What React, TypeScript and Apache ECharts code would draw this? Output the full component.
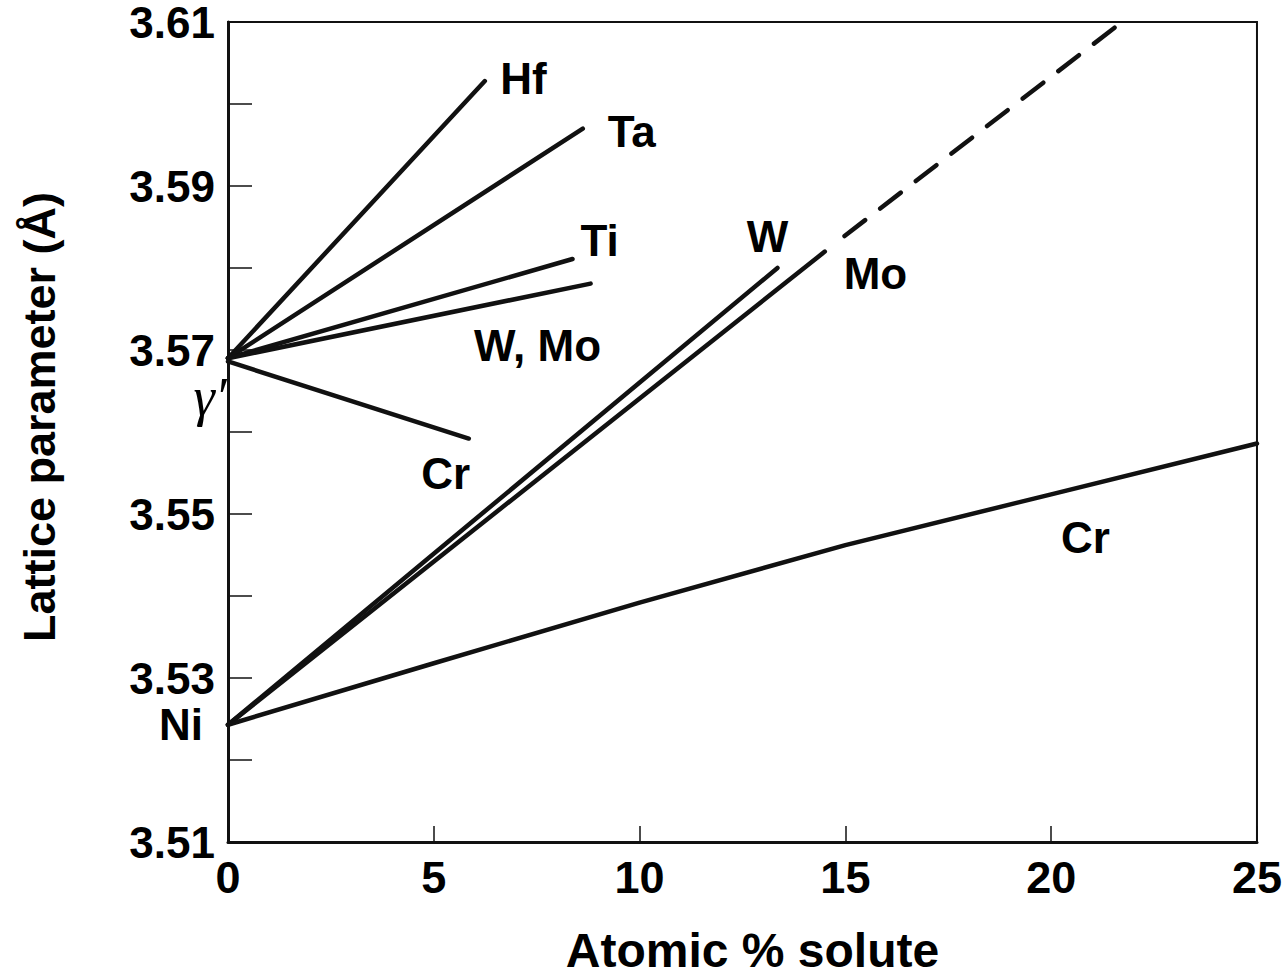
import React, { useEffect, useRef } from 'react';
import * as echarts from 'echarts';

// Lattice parameter (Å) vs atomic % solute
const gammaPrimeStart = 3.569;
const nickelStart = 3.5243;

const hfInGammaPrime: [number, number][] = [[0, gammaPrimeStart], [6.24, 3.6028]];
const taInGammaPrime: [number, number][] = [[0, gammaPrimeStart], [8.62, 3.597]];
const tiInGammaPrime: [number, number][] = [[0, gammaPrimeStart], [8.37, 3.5811]];
const wMoInGammaPrime: [number, number][] = [[0, gammaPrimeStart], [8.81, 3.5781]];
const crInGammaPrime: [number, number][] = [[0, 3.5686], [5.85, 3.5592]];

const wInNickel: [number, number][] = [[0, nickelStart], [13.35, 3.58]];
const moInNickelSolid: [number, number][] = [[0, nickelStart], [14.5, 3.582]];
const moInNickelDashed: [number, number][] = [[14.98, 3.5839], [21.72, 3.61]];
const crInNickel: [number, number][] = [
  [0, nickelStart], [5, 3.5318], [10, 3.5392], [15, 3.5462], [20, 3.5524], [25, 3.5586],
];

const xTicks = [0, 5, 10, 15, 20, 25];
const yMin = 3.51;
const yMax = 3.61;

// curve labels (placed in data coordinates)
const curveLabels: { name: string; at: [number, number] }[] = [
  { name: 'Hf', at: [7.18, 3.6031] },
  { name: 'Ta', at: [9.81, 3.5966] },
  { name: 'Ti', at: [9.03, 3.5834] },
  { name: 'W, Mo', at: [7.52, 3.5706] },
  { name: 'Cr', at: [5.29, 3.5549] },
  { name: 'W', at: [13.11, 3.5839] },
  { name: 'Mo', at: [15.73, 3.5793] },
  { name: 'Cr', at: [20.83, 3.5471] },
];

const INK = '#000';
const FONT = '"Liberation Sans", Arial, sans-serif';

function lineSeries(data: [number, number][], dashed = false) {
  return {
    type: 'line',
    data,
    showSymbol: false,
    symbol: 'none',
    silent: true,
    clip: false,
    lineStyle: {
      color: '#111',
      width: 4.5,
      cap: 'round',
      type: dashed ? [26, 19] : 'solid',
    },
  };
}

function labelStyle(extra: Record<string, unknown> = {}) {
  return {
    show: true,
    position: 'inside',
    formatter: '{b}',
    fontFamily: FONT,
    fontWeight: 'bold',
    fontSize: 44,
    lineHeight: 40,
    color: INK,
    opacity: 1,
    textBorderWidth: 0,
    textBorderColor: 'transparent',
    ...extra,
  };
}

export default function App() {
  const ref = useRef<HTMLDivElement>(null);
  useEffect(() => {
    const chart = echarts.init(ref.current!, null, { renderer: 'svg' });
    chart.setOption({
      animation: false,
      backgroundColor: '#fff',
      grid: {
        left: 228, right: 27, top: 17, bottom: 134,
        show: true, borderColor: '#111', borderWidth: 2,
      },
      xAxis: {
        type: 'value',
        min: xTicks[0],
        max: xTicks[xTicks.length - 1],
        interval: 5,
        name: 'Atomic % solute',
        nameLocation: 'middle',
        nameGap: 84,
        nameTextStyle: { fontFamily: FONT, fontWeight: 'bold', fontSize: 48, color: INK, padding: [0, 0, 0, 20] },
        axisLine: { show: true, lineStyle: { color: '#111', width: 3 } },
        axisTick: { show: true, inside: true, length: 16, lineStyle: { color: '#111', width: 1.5 } },
        axisLabel: { margin: 13, fontFamily: FONT, fontWeight: 'bold', fontSize: 45, color: INK },
        splitLine: { show: false },
      },
      yAxis: {
        type: 'value',
        min: yMin,
        max: yMax,
        interval: 0.01,
        name: 'Lattice parameter (Å)',
        nameLocation: 'middle',
        nameGap: 166,
        nameRotate: 90,
        nameTextStyle: { fontFamily: FONT, fontWeight: 'bold', fontSize: 45, color: INK, padding: [0, 0, 0, 30] },
        axisLine: { show: true, lineStyle: { color: '#111', width: 3 } },
        axisTick: { show: true, inside: true, length: 24, lineStyle: { color: '#111', width: 1.5 } },
        axisLabel: {
          margin: 13,
          fontFamily: FONT,
          fontWeight: 'bold',
          fontSize: 44,
          lineHeight: 28,
          color: INK,
          formatter: (v: number) => (Math.round(v * 100) % 2 === 1 ? v.toFixed(2) : ''),
        },
        splitLine: { show: false },
      },
      series: [
        lineSeries(hfInGammaPrime),
        lineSeries(taInGammaPrime),
        lineSeries(tiInGammaPrime),
        lineSeries(wMoInGammaPrime),
        lineSeries(crInGammaPrime),
        lineSeries(wInNickel),
        lineSeries(moInNickelSolid),
        lineSeries(moInNickelDashed, true),
        lineSeries(crInNickel),
        {
          type: 'scatter',
          symbolSize: 0,
          silent: true,
          clip: false,
          data: curveLabels.map((l) => ({ name: l.name, value: l.at })),
          label: labelStyle(),
        },
        {
          type: 'scatter',
          symbolSize: 0,
          silent: true,
          clip: false,
          data: [{ name: 'Ni', value: [0, nickelStart] }],
          label: labelStyle({ offset: [-47, 0] }),
        },
        {
          type: 'scatter',
          symbolSize: 0,
          silent: true,
          clip: false,
          data: [{ name: 'γ′', value: [0, gammaPrimeStart] }],
          label: labelStyle({
            offset: [-18, 39],
            fontFamily: '"Liberation Serif", "DejaVu Serif", serif',
            fontStyle: 'italic',
            fontWeight: 'normal',
            fontSize: 54,
            lineHeight: 40,
          }),
        },
      ],
    });
    return () => chart.dispose();
  }, []);
  return (
    <div
      ref={ref}
      style={{ position: 'absolute', left: 0, top: 0, width: 1285, height: 979, background: '#fff' }}
    />
  );
}
